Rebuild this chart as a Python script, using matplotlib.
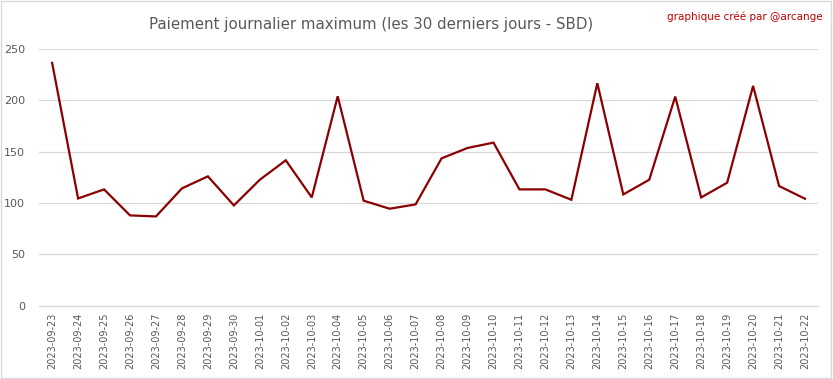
import matplotlib.pyplot as plt
from matplotlib.patches import Rectangle

dates = ['2023-09-23', '2023-09-24', '2023-09-25', '2023-09-26', '2023-09-27',
         '2023-09-28', '2023-09-29', '2023-09-30', '2023-10-01', '2023-10-02',
         '2023-10-03', '2023-10-04', '2023-10-05', '2023-10-06', '2023-10-07',
         '2023-10-08', '2023-10-09', '2023-10-10', '2023-10-11', '2023-10-12',
         '2023-10-13', '2023-10-14', '2023-10-15', '2023-10-16', '2023-10-17',
         '2023-10-18', '2023-10-19', '2023-10-20', '2023-10-21', '2023-10-22']
max_payout = [236.4, 104.5, 113.3, 88.0, 87.0, 114.3, 126.0, 97.7, 122.7, 141.6,
              105.5, 203.9, 102.3, 94.5, 98.7, 143.5, 153.6, 158.8, 113.3, 113.3,
              103.2, 216.6, 108.4, 122.7, 203.6, 105.5, 119.8, 214.0, 116.6, 104.2]
y_ticks = [0, 50, 100, 150, 200, 250]

text_grey = '#595959'

fig = plt.figure(figsize=(8.33, 3.79), dpi=100)
ax = fig.add_axes([0.047, 0.193, 0.935, 0.678])

x = list(range(len(dates)))
ax.plot(x, max_payout, color='#8B0000', lw=1.6, solid_joinstyle='miter')

ax.set_xlim(-0.5, len(dates) - 0.5)
ax.set_ylim(0, 250)
ax.set_yticks(y_ticks)
ax.set_xticks(x)
ax.set_xticklabels(dates, rotation=90, fontsize=7, color=text_grey)
ax.tick_params(axis='y', labelsize=8, colors=text_grey, length=0, pad=10)
ax.tick_params(axis='x', length=0, pad=5)
ax.grid(axis='y', color='#D9D9D9', lw=0.9)
ax.axhline(0, color='#D9D9D9', lw=0.9, clip_on=False, zorder=0.5)
ax.set_axisbelow(True)
for s in ax.spines.values():
    s.set_visible(False)

fig.text(0.446, 0.935, 'Paiement journalier maximum (les 30 derniers jours - SBD)',
         ha='center', va='center', fontsize=10.8, color=text_grey)
fig.text(0.988, 0.955, 'graphique créé par @arcange', ha='right', va='center',
         fontsize=7.5, color='#C00000')

fig.patches.append(Rectangle((0.001, 0.002), 0.997, 0.995, transform=fig.transFigure,
                             fill=False, edgecolor='#D9D9D9', lw=1))

fig.savefig('out.png', dpi=100)
